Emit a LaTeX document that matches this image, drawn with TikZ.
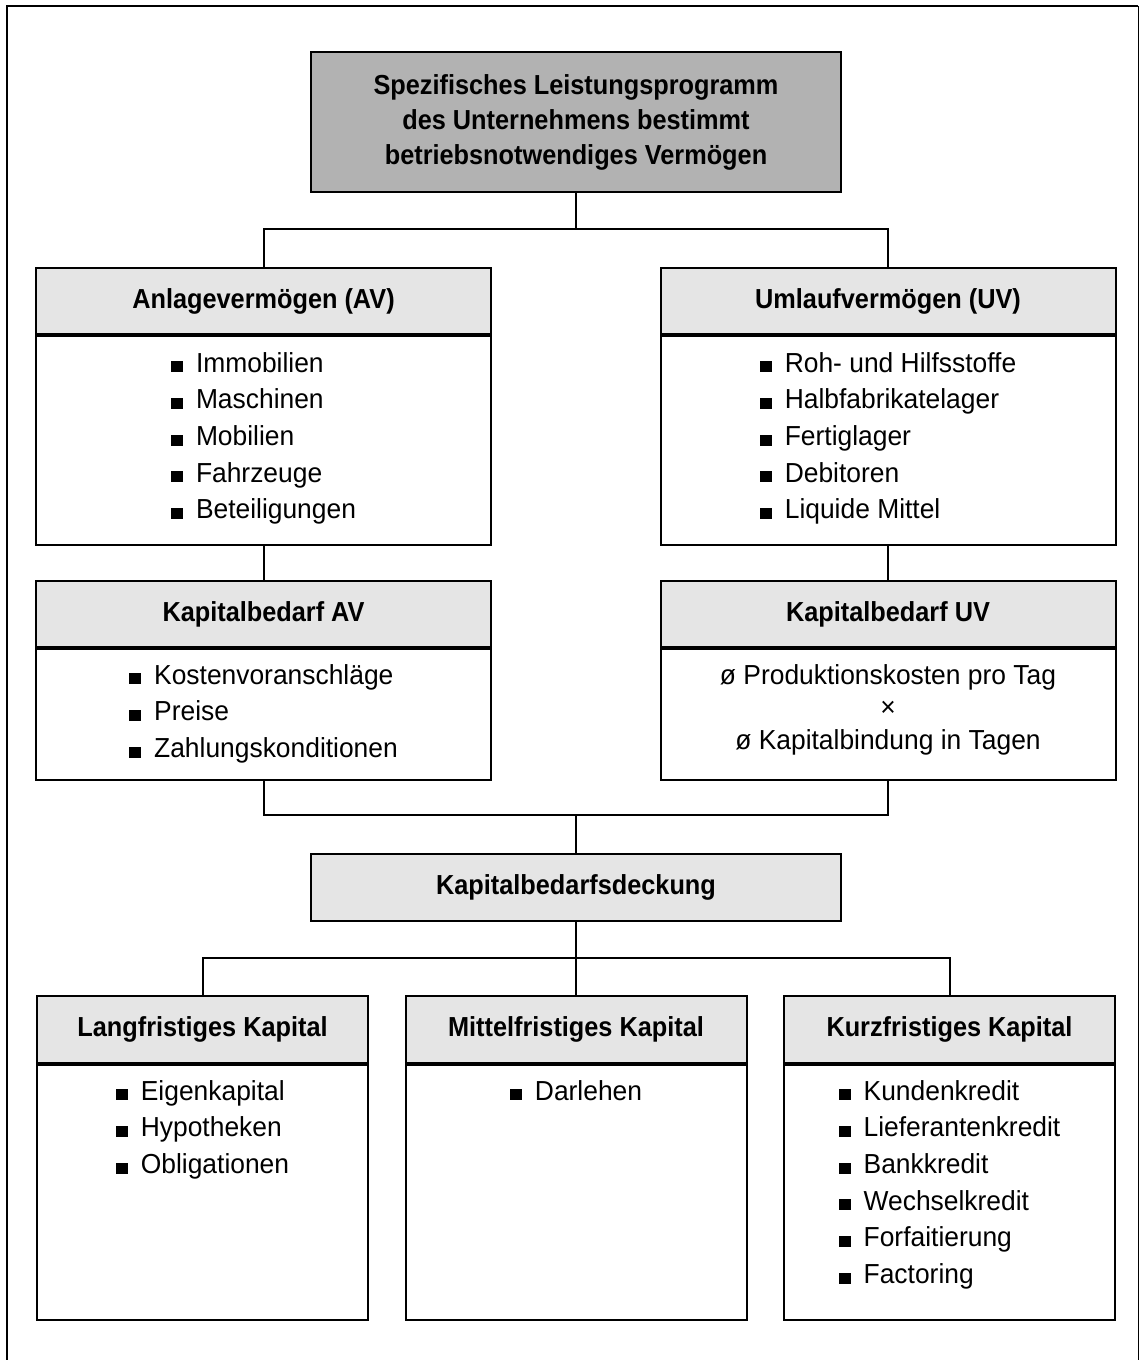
\documentclass[tikz,border=0pt]{standalone}
\usepackage{fontspec}
\setmainfont{Liberation Sans}[FakeStretch=0.96,BoldFeatures={FakeStretch=0.92}]
\usepackage{tikz}
\usetikzlibrary{positioning,calc}
\newcommand{\sq}{\rule{12bp}{11bp}\hspace{13bp}}
\begin{document}
\begin{tikzpicture}[x=1bp,y=-1bp,
  box/.style={draw,line width=2bp,inner sep=0pt,align=center},
  topbox/.style={box,fill=black!30,minimum width=530bp,minimum height=140bp,font=\fontsize{27.5bp}{35bp}\selectfont\bfseries},
  headbox/.style={box,fill=black!10,anchor=north,minimum height=66bp,font=\fontsize{27.5bp}{33bp}\selectfont\bfseries},
  bodybox/.style={box,fill=white,anchor=north},
  listtext/.style={align=left,inner sep=0pt,anchor=north,font=\fontsize{27.5bp}{36.7bp}\selectfont},
  conn/.style={line width=2bp}]
\useasboundingbox (0,0) rectangle (1143,1360);
\draw[line width=2.5bp] (7,1360) -- (7,6) -- (1138,6);
\draw[line width=1bp] (1138,6) -- (1138,1360);

\node[topbox] (top) at (576,122) {Spezifisches Leistungsprogramm\\des Unternehmens bestimmt\\betriebsnotwendiges Vermögen};

\node[headbox,minimum width=455bp] (av) at (263.5,267) {Anlagevermögen (AV)};
\node[bodybox,minimum width=455bp,minimum height=209bp] (avbody) at (av.south) {};
\node[listtext] (avlist) at ([yshift=-17bp]avbody.north) {\sq Immobilien\\\sq Maschinen\\\sq Mobilien\\\sq Fahrzeuge\\\sq Beteiligungen};

\node[headbox,minimum width=455bp] (uv) at (888,267) {Umlaufvermögen (UV)};
\node[bodybox,minimum width=455bp,minimum height=209bp] (uvbody) at (uv.south) {};
\node[listtext] (uvlist) at ([yshift=-17bp]uvbody.north) {\sq Roh- und Hilfsstoffe\\\sq Halbfabrikatelager\\\sq Fertiglager\\\sq Debitoren\\\sq Liquide Mittel};

\node[headbox,minimum width=455bp] (kbav) at (263.5,580) {Kapitalbedarf AV};
\node[bodybox,minimum width=455bp,minimum height=131bp] (kbavbody) at (kbav.south) {};
\node[listtext] (kbavlist) at ([yshift=-16bp]kbavbody.north) {\sq Kostenvoranschläge\\\sq Preise\\\sq Zahlungskonditionen};

\node[headbox,minimum width=455bp] (kbuv) at (888,580) {Kapitalbedarf UV};
\node[bodybox,minimum width=455bp,minimum height=131bp] (kbuvbody) at (kbuv.south) {};
\node[align=center,inner sep=0pt,anchor=north,font=\fontsize{27.5bp}{32.5bp}\selectfont] (kbuvtext) at ([yshift=-16bp]kbuvbody.north) {ø Produktionskosten pro Tag\\×\\ø Kapitalbindung in Tagen};

\node[headbox,minimum width=530bp,minimum height=67bp] (deck) at (576,853) {Kapitalbedarfsdeckung};

\node[headbox,minimum width=331bp,minimum height=67bp] (lang) at (202.5,995) {Langfristiges Kapital};
\node[bodybox,minimum width=331bp,minimum height=255bp] (langbody) at (lang.south) {};
\node[listtext] (langlist) at ([yshift=-16bp]langbody.north) {\sq Eigenkapital\\\sq Hypotheken\\\sq Obligationen};

\node[headbox,minimum width=341bp,minimum height=67bp] (mittel) at (576,995) {Mittelfristiges Kapital};
\node[bodybox,minimum width=341bp,minimum height=255bp] (mittelbody) at (mittel.south) {};
\node[listtext] (mittellist) at ([yshift=-16bp]mittelbody.north) {\sq Darlehen};

\node[headbox,minimum width=331bp,minimum height=67bp] (kurz) at (949.5,995) {Kurzfristiges Kapital};
\node[bodybox,minimum width=331bp,minimum height=255bp] (kurzbody) at (kurz.south) {};
\node[listtext] (kurzlist) at ([yshift=-16bp]kurzbody.north) {\sq Kundenkredit\\\sq Lieferantenkredit\\\sq Bankkredit\\\sq Wechselkredit\\\sq Forfaitierung\\\sq Factoring};

\coordinate (j1) at (576,229);
\coordinate (j2) at (576,815);
\coordinate (j3) at (576,958);
\draw[conn] (top) -- (j1);
\draw[conn] (av.north) |- (j1) -| (uv.north);
\draw[conn] (avbody) -- (kbav);
\draw[conn] (uvbody) -- (kbuv);
\draw[conn] (kbavbody.south) |- (j2) -| (kbuvbody.south);
\draw[conn] (j2) -- (deck.north);
\draw[conn] (deck.south) -- (j3);
\draw[conn] (lang.north) |- (j3) -| (kurz.north);
\draw[conn] (j3) -- (mittel.north);
\end{tikzpicture}
\end{document}
